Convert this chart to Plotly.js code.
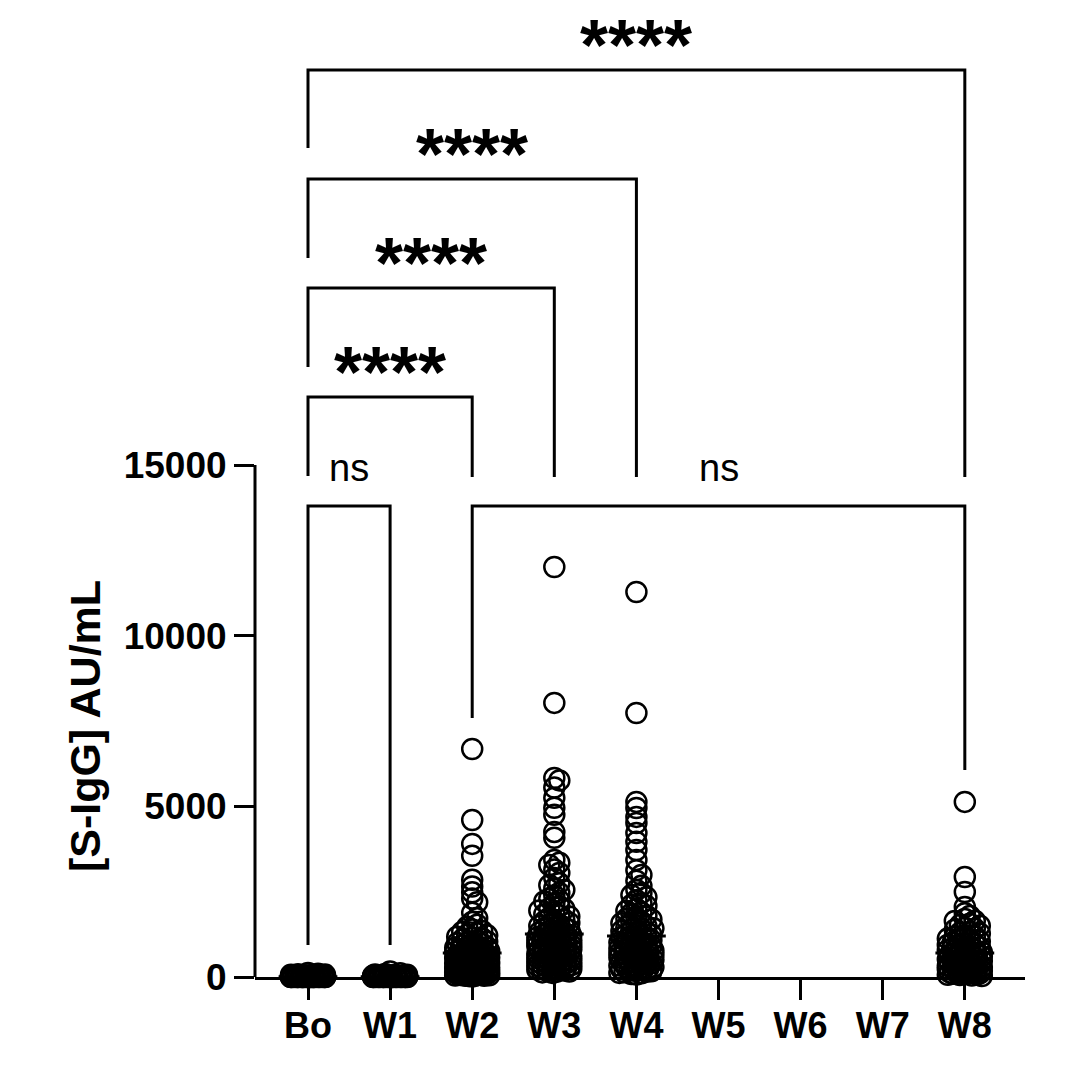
<!DOCTYPE html>
<html>
<head>
<meta charset="utf-8">
<script src="https://cdn.plot.ly/plotly-3.0.1.min.js"></script>
<style>html,body{margin:0;padding:0;background:#fff;}#chart{width:1080px;height:1069px;}</style>
</head>
<body>
<div id="chart"></div>
<script>
// ---------- data ----------
const categories = ['Bo', 'W1', 'W2', 'W3', 'W4', 'W5', 'W6', 'W7', 'W8'];
const yTickVals = [0, 5000, 10000, 15000];
const yTickText = ['0', '5000', '10000', '15000'];

const valuesBo = [120, 95, 82, 70, 66, 58, 54, 49, 47, 44, 41, 39, 36, 34, 31, 29, 27, 26, 24, 23, 21, 20, 19, 18, 17, 16, 15, 14, 13, 12, 11, 10, 10, 9, 9, 8, 8, 7, 7, 6, 6, 5, 5, 5, 4, 4, 4, 3, 3, 3, 2, 2, 2, 1, 1, 1, 1, 0, 0, 0, 0, 0, 0, 0, 0, 0, 0, 0];
const valuesW1 = [160, 112, 88, 76, 67, 61, 53, 48, 43, 40, 37, 35, 31, 29, 27, 25, 23, 21, 20, 18, 17, 16, 15, 14, 13, 12, 11, 10, 9, 9, 8, 8, 7, 6, 6, 5, 5, 4, 4, 3, 3, 3, 2, 2, 2, 1, 1, 1, 0, 0, 0, 0, 0, 0, 0, 0, 0, 0];
const valuesW2 = [6680, 4600, 3900, 3550, 2850, 2650, 2480, 2300, 2190, 1880, 1720, 1610, 1530, 1470, 1390, 1320, 1280, 1220, 1180, 1130, 1095, 1040, 1010, 970, 945, 900, 875, 855, 820, 805, 775, 750, 735, 705, 690, 665, 655, 625, 610, 585, 570, 555, 530, 515, 500, 475, 460, 450, 425, 410, 390, 380, 360, 350, 330, 320, 300, 290, 270, 262, 240, 230, 210, 205, 180, 170, 155, 145, 130, 118, 105, 92, 80, 70, 58, 50, 38, 25,
  1350, 1240, 1150, 1060, 990, 930, 860, 790, 760, 720, 680, 640, 600, 575, 545, 520, 490, 470, 440, 415, 400, 370, 340, 310, 295, 280, 255, 235, 220, 195, 175, 160, 140, 125, 110, 98, 85, 75, 62, 45, 33, 20];
const valuesW3 = [12010, 8030, 5830, 5760, 5550, 5250, 4960, 4750, 4250, 4080, 3430, 3350, 3280, 3150, 3050, 2900, 2750, 2690, 2600, 2460, 2390, 2300, 2210, 2150, 2075, 2010, 1950, 1895, 1840, 1775, 1735, 1680, 1625, 1585, 1540, 1495, 1460, 1415, 1380, 1345, 1305, 1280, 1245, 1220, 1195, 1160, 1125, 1100, 1070, 1045, 1010, 985, 955, 935, 905, 875, 855, 830, 800, 785, 750, 735, 700, 680, 655, 625, 610, 575, 555, 535, 505, 480, 460, 430, 405, 385, 350, 330, 300, 285, 250, 230, 205, 175, 150, 120,
  2550, 2240, 1990, 1810, 1650, 1520, 1440, 1360, 1290, 1210, 1140, 1080, 1020, 960, 910, 860, 815, 770, 720, 670, 640, 590, 565, 520, 490, 445, 415, 370, 340, 310, 270, 240, 215, 190, 160, 135];
const valuesW4 = [11280, 7735, 5130, 4950, 4690, 4510, 4220, 3960, 3720, 3430, 3130, 2990, 2820, 2670, 2550, 2460, 2340, 2250, 2160, 2085, 2000, 1935, 1860, 1805, 1740, 1685, 1620, 1575, 1515, 1470, 1425, 1380, 1345, 1300, 1255, 1225, 1185, 1145, 1115, 1075, 1045, 1015, 975, 945, 905, 875, 840, 815, 775, 755, 715, 690, 665, 630, 605, 570, 545, 505, 485, 450, 420, 395, 360, 335, 300, 275, 245, 215, 180, 155, 120, 90,
  2400, 2110, 1890, 1710, 1590, 1490, 1400, 1320, 1240, 1170, 1100, 1030, 960, 890, 830, 790, 740, 700, 650, 615, 580, 530, 495, 465, 430, 400, 370, 320, 290, 260, 230, 200, 170, 140, 110, 70];
const valuesW8 = [5130, 2930, 2490, 2050, 1870, 1785, 1700, 1640, 1560, 1505, 1440, 1385, 1320, 1275, 1215, 1175, 1125, 1080, 1045, 995, 965, 920, 895, 850, 825, 785, 765, 725, 705, 670, 655, 620, 605, 570, 555, 520, 505, 475, 465, 435, 425, 395, 385, 355, 345, 315, 305, 275, 265, 235, 225, 195, 185, 165, 155, 135, 125, 105, 95, 75, 65, 45,
  1650, 1520, 1410, 1290, 1190, 1100, 1020, 940, 870, 800, 740, 690, 640, 590, 540, 490, 455, 410, 370, 330, 290, 250, 210, 175, 145, 115, 85, 55, 30];
const medianX = ['Bo', 'W1', 'W2', 'W3', 'W4', 'W8'];
const medianValues = [10, 10, 700, 1260, 1200, 700];

// comparisons: [from, to]
const compFrom = ['Bo', 'Bo', 'Bo', 'Bo', 'Bo', 'W2'];
const compTo = ['W1', 'W2', 'W3', 'W4', 'W8', 'W8'];
const compLabel = ['ns', '****', '****', '****', '****', 'ns'];

// ---------- layout geometry ----------
const W = 1080, H = 1069;
const mL = 255, mR = 55, mT = 40, mB = 92;
const xRange = [-0.6455, 8.733];
const yRange = [0, 27451];
const pxPerCat = (W - mL - mR) / (xRange[1] - xRange[0]);
const pxPerY = (H - mT - mB) / (yRange[1] - yRange[0]);
const catIndex = c => categories.indexOf(c);
const yFromPx = px => (H - mB - px) / pxPerY; // pixel row -> data value

// bracket geometry (pixel rows)
const brTopPx = [506, 397, 288, 179, 70, 506];
const brLeftEndPx = [945, 476, 367, 258, 148, 718];
const brRightEndPx = [945, 477, 477, 477, 477, 770];

// deterministic dot-plot spreading (layout only)
function spread(vals, ci) {
  const offs = [0, 5, -5, 10, -10, 15, -15, 17, -17, 2, -2, 7, -7, 12, -12];
  const D = 5.5;
  const placed = [];
  const xs = new Array(vals.length);
  const order = vals.map((v, i) => i).sort((a, b) => vals[b] - vals[a]);
  order.forEach(i => {
    const yp = vals[i] * pxPerY;
    let best = 0, bestScore = -1, chosen = null;
    for (const o of offs) {
      let m = Infinity;
      for (const p of placed) {
        const d = Math.hypot(o - p[0], yp - p[1]);
        if (d < m) m = d;
      }
      if (m >= D) { chosen = o; break; }
      if (m > bestScore) { bestScore = m; best = o; }
    }
    if (chosen === null) chosen = best;
    placed.push([chosen, yp]);
    xs[i] = ci + chosen / pxPerCat;
  });
  return xs;
}

const series = [['Bo', valuesBo], ['W1', valuesW1], ['W2', valuesW2], ['W3', valuesW3], ['W4', valuesW4], ['W8', valuesW8]];
const traces = series.map(([name, vals]) => ({
  type: 'scatter', mode: 'markers', name: name,
  x: spread(vals, catIndex(name)), y: vals,
  cliponaxis: false,
  marker: {symbol: 'circle-open', size: 20, color: '#000', line: {width: 2.5, color: '#000'}},
  hoverinfo: 'y'
}));
traces.push({
  type: 'scatter', mode: 'markers', name: 'median',
  x: medianX.map(catIndex), y: medianValues, cliponaxis: false,
  marker: {symbol: 'line-ew', size: 42, color: '#000', line: {width: 3, color: '#000'}},
  hoverinfo: 'y'
});

const shapes = [{
  type: 'line', xref: 'paper', yref: 'y', x0: 0, x1: 0, y0: 0, y1: yTickVals[yTickVals.length - 1],
  line: {color: '#000', width: 3}
}];
const annotations = [];
compFrom.forEach((f, k) => {
  const x0 = catIndex(f), x1 = catIndex(compTo[k]);
  const yt = yFromPx(brTopPx[k]);
  shapes.push({
    type: 'path', xref: 'x', yref: 'y',
    path: `M ${x0},${yFromPx(brLeftEndPx[k])} L ${x0},${yt} L ${x1},${yt} L ${x1},${yFromPx(brRightEndPx[k])}`,
    line: {color: '#000', width: 3}
  });
  const isStar = compLabel[k] !== 'ns';
  annotations.push({
    xref: 'x', yref: 'y', x: (x0 + x1) / 2, y: yt,
    text: compLabel[k], showarrow: false,
    xanchor: 'center', yanchor: 'bottom',
    yshift: isStar ? -17 : 15,
    font: isStar ? {family: 'Arial, Liberation Sans, sans-serif', size: 72, weight: 700, color: '#000'}
                 : {family: 'Arial, Liberation Sans, sans-serif', size: 38, weight: 400, color: '#000'}
  });
});
annotations.push({
  xref: 'paper', yref: 'y', x: (85 - mL) / (W - mL - mR), y: 7350,
  text: '[S-IgG] AU/mL', textangle: -90, showarrow: false,
  xanchor: 'center', yanchor: 'middle',
  font: {family: 'Arial, Liberation Sans, sans-serif', size: 43, weight: 700, color: '#000'}
});

const layout = {
  width: W, height: H,
  margin: {l: mL, r: mR, t: mT, b: mB},
  paper_bgcolor: '#fff', plot_bgcolor: '#fff',
  showlegend: false,
  font: {family: 'Arial, Liberation Sans, sans-serif', color: '#000'},
  xaxis: {
    range: xRange, tickvals: categories.map((c, i) => i), ticktext: categories,
    showline: true, linewidth: 3, linecolor: '#000',
    ticks: 'outside', ticklen: 20, tickwidth: 3, tickcolor: '#000',
    ticklabelstandoff: -5,
    showgrid: false, zeroline: false,
    tickfont: {family: 'Arial, Liberation Sans, sans-serif', size: 36, weight: 700, color: '#000'}
  },
  yaxis: {
    range: yRange, tickvals: yTickVals, ticktext: yTickText,
    showline: false, ticks: 'outside', ticklen: 20, tickwidth: 3, tickcolor: '#000',
    showgrid: false, zeroline: false,
    tickfont: {family: 'Arial, Liberation Sans, sans-serif', size: 37, weight: 700, color: '#000'}
  },
  shapes: shapes,
  annotations: annotations
};

Plotly.newPlot('chart', traces, layout, {displayModeBar: false, staticPlot: true});
</script>
</body>
</html>
